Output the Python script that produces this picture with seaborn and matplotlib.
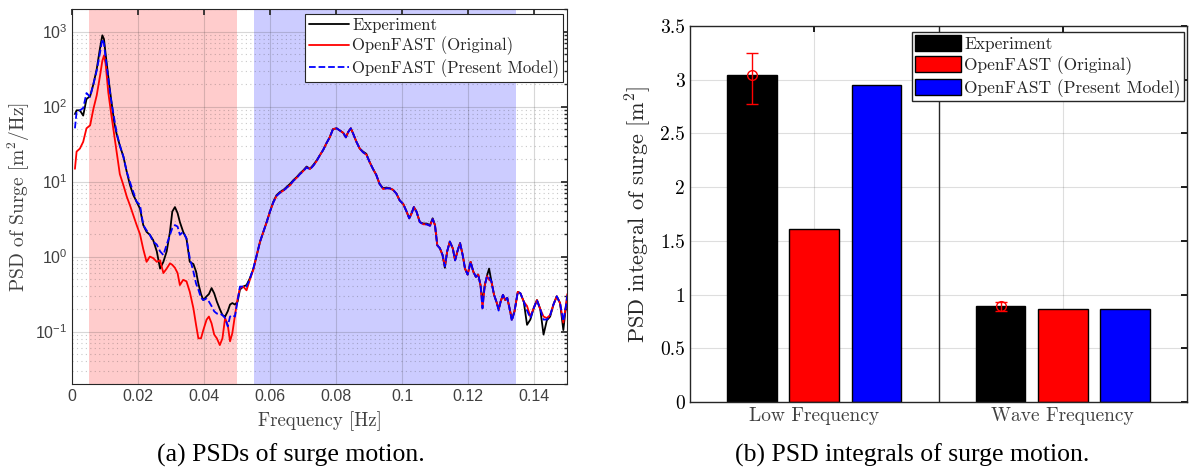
import seaborn as sns
import matplotlib.pyplot as plt
import matplotlib.ticker as mticker
import numpy as np
import pandas as pd

sns.set_theme(style="white")
plt.rcParams['font.family'] = ['Liberation Sans', 'DejaVu Sans']
plt.rcParams['mathtext.fontset'] = 'cm'

# ----------------------------
# data: PSD of surge (log10 of m^2/Hz)
# ----------------------------
freq_hz = [
    0.0008, 0.0013, 0.0023, 0.0033, 0.0043, 0.0054, 0.0064, 0.0074, 0.0084, 0.0091,
    0.0096, 0.0101, 0.0109, 0.0117, 0.0127, 0.0134, 0.0144, 0.0155, 0.0165, 0.0175,
    0.0185, 0.0195, 0.0205, 0.0215, 0.0225, 0.0235, 0.0245, 0.0256, 0.0266, 0.0276,
    0.0286, 0.0296, 0.0303, 0.0311, 0.0319, 0.0326, 0.0336, 0.0346, 0.0356, 0.0367,
    0.0375, 0.0382, 0.0390, 0.0397, 0.0407, 0.0414, 0.0422, 0.0430, 0.0438, 0.0447,
    0.0455, 0.0463, 0.0471, 0.0478, 0.0485, 0.0493, 0.0501, 0.0508, 0.0518,
    0.0528, 0.0538, 0.0549, 0.0559, 0.0569, 0.0579, 0.0589, 0.0599, 0.0609, 0.0619,
    0.0629, 0.0640, 0.0650, 0.0660, 0.0670, 0.0680, 0.0690, 0.0700, 0.0710, 0.0720,
    0.0730, 0.0740, 0.0750, 0.0760, 0.0770, 0.0780, 0.0790, 0.0801, 0.0811, 0.0821,
    0.0829, 0.0836, 0.0844, 0.0851, 0.0861, 0.0871, 0.0881, 0.0891, 0.0901, 0.0911,
    0.0921, 0.0931, 0.0942, 0.0952, 0.0962, 0.0972, 0.0982, 0.0992, 0.1003, 0.1013,
    0.1021, 0.1028, 0.1035, 0.1043, 0.1053, 0.1064, 0.1074, 0.1084, 0.1092, 0.1099,
    0.1106, 0.1114, 0.1122, 0.1129, 0.1136, 0.1144, 0.1153, 0.1160, 0.1167, 0.1175,
    0.1183, 0.1190, 0.1198, 0.1207, 0.1215, 0.1223, 0.1230, 0.1237, 0.1243, 0.1250,
    0.1257, 0.1263, 0.1270, 0.1278, 0.1285, 0.1292, 0.1298, 0.1305, 0.1312, 0.1318,
    0.1325, 0.1332, 0.1340, 0.1350, 0.1358, 0.1368, 0.1378, 0.1388, 0.1398, 0.1408,
    0.1418, 0.1428, 0.1438, 0.1448, 0.1458, 0.1468, 0.1478, 0.1488, 0.1495, 0.1500,
]

exp_log10 = [
    1.90, 1.95, 1.95, 1.88, 2.10, 2.14, 2.30, 2.50, 2.78, 2.95,
    2.90, 2.70, 2.40, 2.12, 1.79, 1.64, 1.48, 1.33, 1.13, 0.95,
    0.82, 0.73, 0.64, 0.42, 0.33, 0.29, 0.22, 0.07, -0.16, -0.07,
    0.07, 0.33, 0.60, 0.66, 0.58, 0.46, 0.33, 0.24, -0.07, -0.10,
    -0.20, -0.36, -0.50, -0.58, -0.53, -0.50, -0.42, -0.49, -0.60, -0.70,
    -0.78, -0.80, -0.73, -0.64, -0.62, -0.64, -0.60, -0.44, -0.40,
    -0.38, -0.29, -0.16, 0.02, 0.20, 0.33, 0.46, 0.60, 0.73, 0.82,
    0.86, 0.89, 0.93, 0.97, 1.02, 1.06, 1.11, 1.15, 1.20, 1.17,
    1.22, 1.28, 1.35, 1.42, 1.51, 1.59, 1.70, 1.71, 1.68, 1.65,
    1.59, 1.66, 1.71, 1.64, 1.53, 1.44, 1.40, 1.37, 1.26, 1.17,
    1.09, 0.97, 0.91, 0.92, 0.91, 0.89, 0.84, 0.75, 0.70, 0.60,
    0.51, 0.58, 0.66, 0.60, 0.46, 0.44, 0.44, 0.42, 0.51, 0.42,
    0.15, 0.11, 0.02, -0.15, 0.07, 0.20, 0.11, -0.05, 0.07, 0.18,
    0.02, -0.16, -0.24, -0.07, -0.20, -0.27, -0.24, -0.38, -0.60, -0.38,
    -0.25, -0.16, -0.33, -0.51, -0.60, -0.70, -0.60, -0.51, -0.58, -0.55,
    -0.69, -0.84, -0.73, -0.47, -0.49, -0.60, -0.91, -0.84, -0.69, -0.58,
    -0.70, -1.04, -0.85, -0.80, -0.64, -0.53, -0.62, -0.98, -0.70, -0.55,
]

orig_log10 = [
    1.17, 1.40, 1.44, 1.53, 1.71, 1.75, 1.97, 2.15, 2.41, 2.61,
    2.68, 2.57, 2.19, 1.93, 1.62, 1.40, 1.10, 0.95, 0.80, 0.68,
    0.55, 0.42, 0.30, 0.10, -0.07, 0.00, -0.02, -0.07, -0.05, -0.22,
    -0.16, -0.09, -0.11, -0.15, -0.22, -0.38, -0.31, -0.33, -0.47, -0.69,
    -0.91, -1.09, -1.09, -0.98, -0.84, -0.80, -0.89, -1.04, -1.09, -1.18,
    -1.09, -0.82, -0.91, -1.13, -1.02, -0.78, -0.56, -0.42, -0.40,
    -0.45, -0.31, -0.17, 0.02, 0.20, 0.33, 0.46, 0.60, 0.72, 0.81,
    0.85, 0.88, 0.92, 0.95, 1.01, 1.05, 1.10, 1.14, 1.19, 1.17,
    1.21, 1.27, 1.35, 1.42, 1.51, 1.59, 1.70, 1.71, 1.68, 1.65,
    1.59, 1.66, 1.71, 1.64, 1.53, 1.44, 1.39, 1.36, 1.26, 1.17,
    1.09, 0.97, 0.90, 0.91, 0.91, 0.89, 0.84, 0.75, 0.70, 0.60,
    0.51, 0.57, 0.66, 0.60, 0.46, 0.43, 0.43, 0.41, 0.50, 0.42,
    0.15, 0.11, 0.02, -0.13, 0.07, 0.20, 0.11, -0.05, 0.07, 0.18,
    0.02, -0.16, -0.24, -0.07, -0.20, -0.27, -0.24, -0.38, -0.69, -0.38,
    -0.26, -0.31, -0.33, -0.51, -0.60, -0.70, -0.60, -0.51, -0.58, -0.55,
    -0.69, -0.84, -0.73, -0.47, -0.49, -0.60, -0.66, -0.80, -0.69, -0.58,
    -0.70, -0.80, -0.82, -0.78, -0.64, -0.53, -0.62, -0.88, -0.68, -0.50,
]

present_log10 = [
    1.71, 1.93, 1.95, 1.98, 2.18, 2.13, 2.30, 2.48, 2.72, 2.90,
    2.84, 2.65, 2.38, 2.10, 1.84, 1.66, 1.48, 1.33, 1.13, 0.99,
    0.86, 0.73, 0.69, 0.42, 0.35, 0.29, 0.20, 0.16, 0.07, 0.02,
    0.16, 0.29, 0.38, 0.42, 0.40, 0.29, 0.33, 0.24, -0.02, -0.20,
    -0.36, -0.44, -0.55, -0.58, -0.56, -0.60, -0.66, -0.73, -0.76, -0.76,
    -0.78, -0.82, -0.93, -0.80, -0.78, -0.80, -0.58, -0.40, -0.40,
    -0.40, -0.30, -0.15, 0.02, 0.20, 0.33, 0.46, 0.60, 0.72, 0.81,
    0.85, 0.88, 0.92, 0.96, 1.01, 1.05, 1.10, 1.14, 1.19, 1.16,
    1.21, 1.27, 1.35, 1.42, 1.51, 1.59, 1.70, 1.71, 1.68, 1.65,
    1.59, 1.66, 1.71, 1.64, 1.53, 1.44, 1.39, 1.36, 1.26, 1.17,
    1.09, 0.97, 0.90, 0.91, 0.91, 0.89, 0.84, 0.75, 0.70, 0.60,
    0.51, 0.57, 0.66, 0.60, 0.46, 0.43, 0.43, 0.41, 0.50, 0.42,
    0.15, 0.11, 0.02, -0.13, 0.07, 0.20, 0.11, -0.05, 0.07, 0.18,
    0.02, -0.16, -0.24, -0.07, -0.20, -0.27, -0.24, -0.38, -0.69, -0.38,
    -0.26, -0.28, -0.33, -0.51, -0.60, -0.72, -0.60, -0.51, -0.58, -0.55,
    -0.69, -0.86, -0.73, -0.47, -0.49, -0.60, -0.72, -0.82, -0.69, -0.58,
    -0.70, -0.84, -0.84, -0.78, -0.64, -0.53, -0.62, -0.86, -0.68, -0.52,
]

low_band = (0.005, 0.050)
wave_band = (0.055, 0.1345)

# ----------------------------
# data: PSD integrals
# ----------------------------
categories = ["Low Frequency", "Wave Frequency"]
models = ["Experiment", "OpenFAST (Original)", "OpenFAST (Present Model)"]
exp_integral = [3.04, 0.89]
orig_integral = [1.61, 0.863]
present_integral = [2.95, 0.863]
exp_err_lo = [2.77, 0.85]
exp_err_hi = [3.25, 0.935]

psd = pd.DataFrame({
    "freq": freq_hz,
    "Experiment": np.power(10.0, exp_log10),
    "OpenFAST (Original)": np.power(10.0, orig_log10),
    "OpenFAST (Present Model)": np.power(10.0, present_log10),
})
bars = pd.DataFrame({
    "category": categories * 3,
    "model": [m for m in models for _ in categories],
    "value": exp_integral + orig_integral + present_integral,
})

colors = ["#000000", "#FF0000", "#0000FF"]
axcol = "#262626"
serif = "cmr10"

fig = plt.figure(figsize=(11.89, 4.70), dpi=100)
ax1 = fig.add_axes([72.3 / 1189, (470 - 384) / 470, 495 / 1189, 375 / 470])
ax2 = fig.add_axes([690 / 1189, (470 - 402) / 470, 497 / 1189, 376 / 470])

# ----------------------------
# (a) PSD curves
# ----------------------------
ax1.axvspan(*low_band, color="#FFCCCC", lw=0, zorder=0)
ax1.axvspan(*wave_band, color="#CCCCFF", lw=0, zorder=0)
for name, c, ls in zip(models, colors, ["-", "-", "--"]):
    sns.lineplot(data=psd, x="freq", y=name, ax=ax1, color=c, linestyle=ls,
                 lw=1.3, label=name, estimator=None, sort=False)
ax1.set_yscale("log")
ax1.set_xlim(0, 0.15)
ax1.set_ylim(0.02, 2000)
ax1.set_xticks(np.arange(0, 0.141, 0.02))
ax1.xaxis.set_major_formatter(mticker.FormatStrFormatter("%g"))
ax1.yaxis.set_minor_locator(mticker.LogLocator(base=10, subs=np.arange(2, 10)))
ax1.yaxis.set_minor_formatter(mticker.NullFormatter())
ax1.set_axisbelow("line")
ax1.grid(which="major", color=axcol, alpha=0.18, lw=0.8)
ax1.grid(which="minor", axis="y", color=axcol, alpha=0.25, lw=0.8, linestyle=(0, (1, 3)))
ax1.tick_params(which="both", direction="in", top=True, right=True, colors=axcol,
                labelsize=11.5, labelcolor="#404040")
ax1.tick_params(which="major", length=4)
ax1.tick_params(which="minor", length=2.5)
for s in ax1.spines.values():
    s.set_color(axcol)
    s.set_linewidth(0.8)
ax1.set_xlabel("Frequency [Hz]", family=serif, fontsize=13.5, color="#404040", labelpad=5)
ax1.set_ylabel("PSD of Surge [m$^2$/Hz]", family=serif, fontsize=14, color="#404040", labelpad=2)
leg1 = ax1.legend(loc="upper right", bbox_to_anchor=(0.992, 0.988), borderaxespad=0,
                  fancybox=False, edgecolor=axcol, framealpha=1,
                  prop={"family": serif, "size": 12}, handlelength=2.4,
                  handletextpad=0.2, borderpad=0.25, labelspacing=0.22)
leg1.get_frame().set_linewidth(0.8)

# ----------------------------
# (b) PSD integrals
# ----------------------------
sns.barplot(data=bars, x="category", y="value", hue="model", palette=colors,
            width=0.75, gap=0.2, edgecolor="black", linewidth=1, saturation=1,
            errorbar=None, ax=ax2)
exp_x = [b.get_x() + b.get_width() / 2 for b in ax2.containers[0]]
yerr = [np.subtract(exp_integral, exp_err_lo), np.subtract(exp_err_hi, exp_integral)]
ax2.errorbar(exp_x, exp_integral, yerr=yerr, fmt="o", color="#FF0000", mfc="none",
             ms=7, capsize=4, elinewidth=1, mew=1, zorder=5)
ax2.axvline(0.5, color=axcol, lw=1, zorder=3)
ax2.set_xlim(-0.5, 1.5)
ax2.set_ylim(0, 3.5)
ax2.set_yticks(np.arange(0, 3.51, 0.5))
ax2.yaxis.set_major_formatter(mticker.FormatStrFormatter("%g"))
ax2.set_axisbelow(True)
ax2.grid(color=axcol, alpha=0.15, lw=0.8)
ax2.tick_params(direction="in", top=True, right=True, length=4, labelsize=14,
                colors="black")
for lab in ax2.get_xticklabels() + ax2.get_yticklabels():
    lab.set_family(serif)
for lab in ax2.get_xticklabels():
    lab.set_color("#404040")
for s in ax2.spines.values():
    s.set_color(axcol)
    s.set_linewidth(1)
ax2.set_xlabel("")
ax2.set_ylabel("PSD integral of surge [m$^2$]", family=serif, fontsize=16, labelpad=5)
h, l = ax2.get_legend_handles_labels()
leg2 = ax2.legend(h, l, loc="upper right", bbox_to_anchor=(0.994, 0.985), borderaxespad=0,
                  fancybox=False, edgecolor=axcol, framealpha=1, title=None,
                  prop={"family": serif, "size": 12.5}, handlelength=2.6,
                  handleheight=1.0, handletextpad=0.2, borderpad=0.2, labelspacing=0.25)
leg2.get_frame().set_linewidth(1)

# captions
fig.text(291 / 1189, 1 - 455 / 470, "(a) PSDs of surge motion.", ha="center", va="center",
         family="Liberation Serif", fontsize=18.5, color="black")
fig.text(912 / 1189, 1 - 455 / 470, "(b) PSD integrals of surge motion.", ha="center",
         va="center", family="Liberation Serif", fontsize=18.5, color="black")

fig.savefig("out.png", dpi=100)
